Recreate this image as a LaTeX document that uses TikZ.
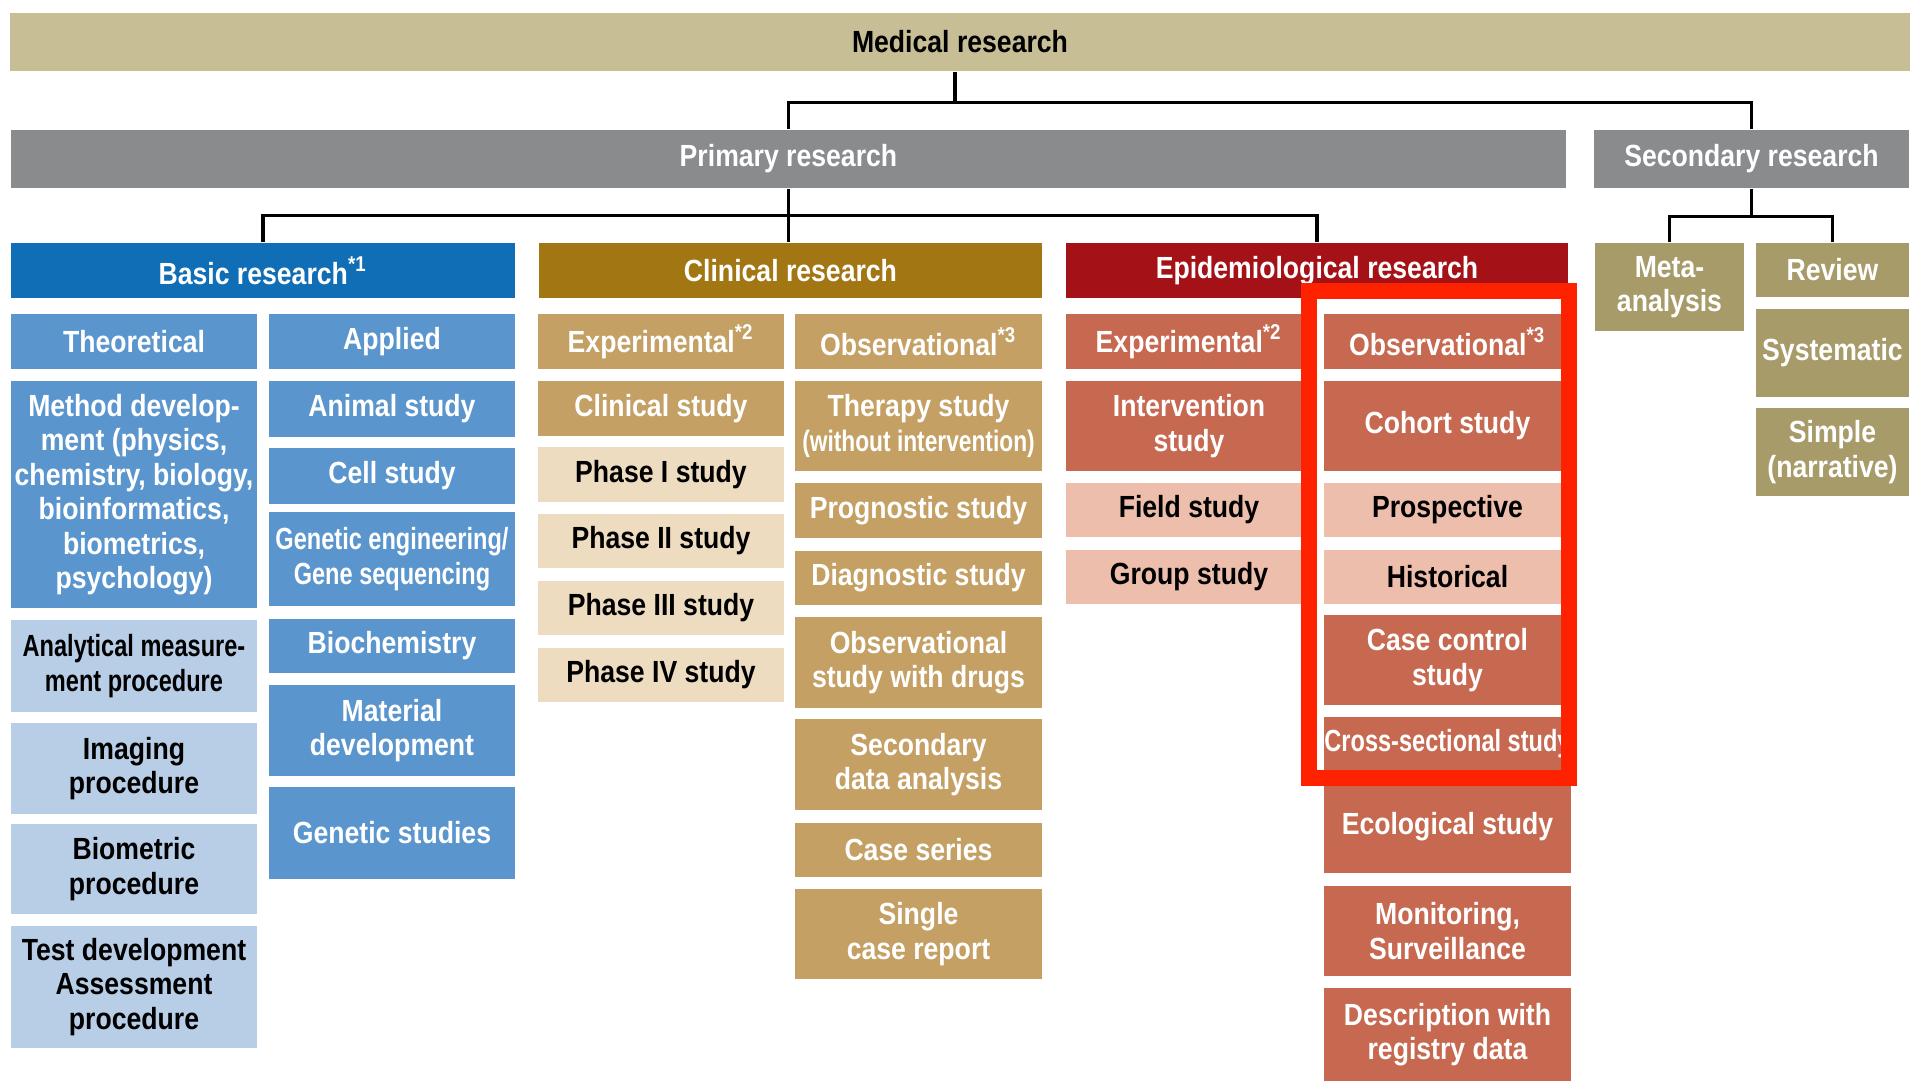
\documentclass[tikz,border=0pt]{standalone}
\usepackage{fontspec}
\setmainfont{Liberation Sans}[FakeStretch=0.87]
\newfontfamily\narrowfont{Liberation Sans}[FakeStretch=0.77]
\usepackage{tikz}
\definecolor{colormed}{HTML}{C7BE96}
\definecolor{colorgray}{HTML}{898B8D}
\definecolor{colorbasic}{HTML}{106EB6}
\definecolor{colorblue}{HTML}{5A96CD}
\definecolor{colorpale}{HTML}{B8CDE6}
\definecolor{colorclin}{HTML}{A37614}
\definecolor{colortan}{HTML}{C4A064}
\definecolor{colorpaletan}{HTML}{EEDCC0}
\definecolor{colorepid}{HTML}{A41218}
\definecolor{colorterra}{HTML}{C76850}
\definecolor{colorpalered}{HTML}{EDBEAC}
\definecolor{colorsec}{HTML}{A89B6A}
\definecolor{colormark}{HTML}{FF2200}
\tikzset{
  cell/.style={rectangle, inner sep=0pt, align=center, text=white,
    font=\bfseries\fontsize{8.7}{9.8}\selectfont},
  col/.style={minimum width=2.46cm},
  short/.style={minimum height=.54cm},
  tall/.style={minimum height=.90cm},
  bluecell/.style={cell, col, fill=colorblue},
  paleblue/.style={cell, col, fill=colorpale, text=black},
  tancell/.style={cell, col, fill=colortan},
  paletan/.style={cell, col, fill=colorpaletan, text=black},
  terracell/.style={cell, col, fill=colorterra},
  palered/.style={cell, col, fill=colorpalered, text=black},
  olivecell/.style={cell, fill=colorsec},
  link/.style={black, line width=0.9pt},
  marker/.style={colormark, line width=0.16cm}
}

\begin{document}
\begin{tikzpicture}[x=0.01cm, y=-0.01cm]
\useasboundingbox[fill=white] (0,0) rectangle (1921,1081);
% top levels
\node[cell, fill=colormed, text=black, minimum width=18.98cm, minimum height=.58cm] (med) at (960,42) {Medical research};
\node[cell, fill=colorgray, minimum width=15.55cm, minimum height=.58cm] (prim) at (788.5,159) {Primary research};
\node[cell, fill=colorgray, minimum width=3.15cm, minimum height=.58cm] (sec) at (1751.5,159) {Secondary research};
\node[cell, fill=colorbasic, minimum width=5.04cm, minimum height=.55cm] (basic) at (263,270.5) {Basic research\textsuperscript{*1}};
\node[cell, fill=colorclin, minimum width=5.03cm, minimum height=.55cm] (clin) at (790.5,270.5) {Clinical research};
\node[cell, fill=colorepid, minimum width=5.02cm, minimum height=.55cm] (epid) at (1317,270.5) {Epidemiological research};
\node[olivecell, minimum width=1.49cm, minimum height=.88cm] (meta) at (1669.5,287) {Meta-\\analysis};
\node[olivecell, minimum width=1.53cm, short] (review) at (1832.5,270) {Review};
\node[olivecell, minimum width=1.53cm, minimum height=.88cm] (syst) at (1832.5,353) {Systematic};
\node[olivecell, minimum width=1.53cm, minimum height=.88cm] (simple) at (1832.5,452) {Simple\\(narrative)};

% basic research
\node[bluecell, minimum height=.55cm] (theo) at (134,341.5) {Theoretical};
\node[bluecell, minimum height=2.27cm] (method) at (134,494.5) {Method develop-\\ment (physics,\\chemistry, biology,\\bioinformatics,\\biometrics,\\psychology)};
\node[paleblue, minimum height=.92cm] (analyt) at (134,666) {\narrowfont Analytical measure-\\\narrowfont ment procedure};
\node[paleblue, tall] (imaging) at (134,768.5) {Imaging\\procedure};
\node[paleblue, tall] (biometric) at (134,869) {Biometric\\procedure};
\node[paleblue, minimum height=1.22cm] (testdev) at (134,987) {Test development\\Assessment\\procedure};
\node[bluecell, minimum height=.55cm] (applied) at (392,341.5) {Applied};
\node[bluecell, minimum height=.56cm] (animal) at (392,409) {Animal study};
\node[bluecell, minimum height=.56cm] (cell) at (392,476) {Cell study};
\node[bluecell, minimum height=.94cm] (genetic) at (392,559) {\narrowfont Genetic engineering/\\\narrowfont Gene sequencing};
\node[bluecell, short] (biochem) at (392,646) {Biochemistry};
\node[bluecell, tall] (material) at (392,730.5) {Material\\development};
\node[bluecell, minimum height=.92cm] (genstud) at (392,833) {Genetic studies};

% clinical research
\node[tancell, minimum height=.55cm] (clexp) at (661,341.5) {Experimental\textsuperscript{*2}};
\node[tancell, short] (clstudy) at (661,408.5) {Clinical study};
\node[paletan, short] (ph1) at (661,474.5) {Phase I study};
\node[paletan, short] (ph2) at (661,541) {Phase II study};
\node[paletan, short] (ph3) at (661,608) {Phase III study};
\node[paletan, short] (ph4) at (661,675) {Phase IV study};
\node[tancell, minimum height=.55cm] (clobs) at (918.5,341.5) {Observational\textsuperscript{*3}};
\node[tancell, tall] (therapy) at (918.5,426) {Therapy study\\{\narrowfont\fontsize{8.4}{9.6}\selectfont (without intervention)}};
\node[tancell, short] (progn) at (918.5,510.5) {Prognostic study};
\node[tancell, short] (diagn) at (918.5,578) {Diagnostic study};
\node[tancell, tall] (obsdrug) at (918.5,662.5) {Observational\\study with drugs};
\node[tancell, minimum height=.91cm] (secdata) at (918.5,764.5) {Secondary\\data analysis};
\node[tancell, short] (caseser) at (918.5,850) {Case series};
\node[tancell, tall] (single) at (918.5,934) {Single\\case report};

% epidemiological research
\node[terracell, minimum height=.55cm] (epexp) at (1189,341.5) {Experimental\textsuperscript{*2}};
\node[terracell, tall] (interv) at (1189,426) {Intervention\\study};
\node[palered, short] (field) at (1189,510) {Field study};
\node[palered, short] (group) at (1189,577) {Group study};
\node[terracell, minimum height=.55cm] (epobs) at (1447.5,341.5) {Observational\textsuperscript{*3}};
\node[terracell, tall] (cohort) at (1447.5,426) {Cohort study};
\node[palered, short] (prosp) at (1447.5,510) {Prospective};
\node[palered, short] (hist) at (1447.5,577) {Historical};
\node[terracell, tall] (casectrl) at (1447.5,660) {Case control\\study};
\node[terracell, minimum height=.53cm] (cross) at (1447.5,743.5) {\narrowfont Cross-sectional study};
\node[terracell, minimum height=.92cm] (eco) at (1447.5,827) {Ecological study};
\node[terracell, tall] (monitor) at (1447.5,931) {Monitoring,\\Surveillance};
\node[terracell, minimum height=.93cm] (registry) at (1447.5,1034.5) {Description with\\registry data};

% tree lines
\draw[link] ([xshift=-0.05cm]med.south) -- ++(0,32);
\draw[link] (prim.north) -- ++(0,-27) -| (sec.north);
\draw[link] (prim.south) -- (prim.south |- clin.north);
\draw[link] (basic.north) -- ++(0,-27) -| (epid.north);
\draw[link] (sec.south) -- ++(0,29);
\draw[link] (meta.north) -- ++(0,-26) -| (review.north);

% highlight
\draw[marker] (1309,291) rectangle (1569,778);
\end{tikzpicture}
\end{document}
